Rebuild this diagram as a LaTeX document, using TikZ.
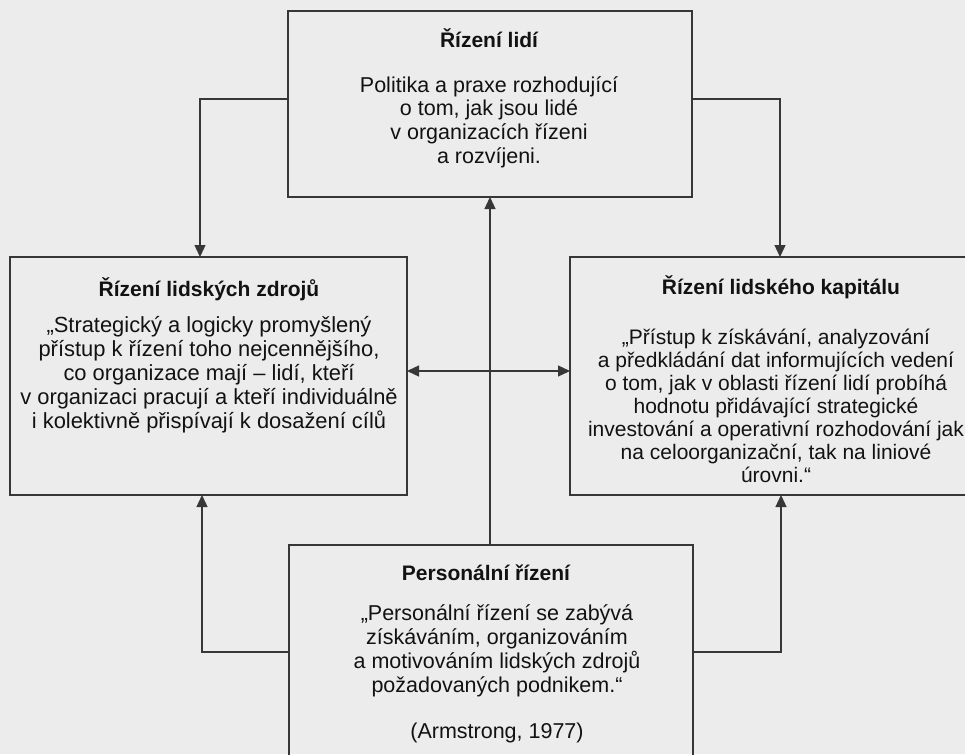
\documentclass[tikz,border=0pt]{standalone}
\usepackage{fontspec}
\setmainfont{Liberation Sans}
\usetikzlibrary{arrows.meta}
\definecolor{bg}{RGB}{236,236,236}
\definecolor{ln}{RGB}{55,55,55}
\definecolor{tx}{RGB}{18,18,18}
\tikzset{
  box/.style={draw=ln, line width=1.4pt, inner sep=0pt, outer sep=0pt, rectangle},
  ttl/.style={font=\fontsize{21}{24}\selectfont\bfseries, text=tx, inner sep=0pt},
  body/.style={font=\fontsize{21.5}{23.6}\selectfont, text=tx, align=center, inner sep=0pt},
  conn/.style={draw=ln, line width=1.3pt, -{Triangle[length=12pt,width=11pt]}},
  conn2/.style={draw=ln, line width=1.3pt, {Triangle[length=12pt,width=11pt]}-{Triangle[length=12pt,width=11pt]}}
}
\begin{document}
\begin{tikzpicture}[x=1pt,y=-1pt]
\fill[bg] (0,0) rectangle (965,754);
\useasboundingbox (0,0) rectangle (965,754);

% boxes
\node[box, minimum width=404pt, minimum height=186pt] (top) at (490,104) {};
\node[box, minimum width=397pt, minimum height=238pt] (left) at (208.5,376) {};
\node[box, minimum width=415pt, minimum height=238pt] (right) at (777.5,376) {};
\node[box, minimum width=404pt, minimum height=230pt] (bot) at (491,660) {};

% texts
\node[ttl] (toptitle) at (489,38) {Řízení lidí};
\node[body] (topbody) at (489,122) {Politika a praxe rozhodující\\o tom, jak jsou lidé\\v organizacích řízeni\\a rozvíjeni.};

\node[ttl] (lefttitle) at (209,289) {Řízení lidských zdrojů};
\node[body, font=\fontsize{21.9}{24}\selectfont] (leftbody) at (209,375) {„Strategický a logicky promyšlený\\přístup k řízení toho nejcennějšího,\\co organizace mají – lidí, kteří\\v organizaci pracují a kteří individuálně\\i kolektivně přispívají k dosažení cílů};

\node[ttl] (righttitle) at (781,287) {Řízení lidského kapitálu};
\node[body, font=\fontsize{21}{23}\selectfont] (rightbody) at (776,406) {„Přístup k získávání, analyzování\\a předkládání dat informujících vedení\\o tom, jak v oblasti řízení lidí probíhá\\hodnotu přidávající strategické\\investování a operativní rozhodování jak\\na celoorganizační, tak na liniové\\úrovni.“};

\node[ttl] (bottitle) at (486,573) {Personální řízení};
\node[body, font=\fontsize{21.5}{24}\selectfont] (botbody) at (497,651) {„Personální řízení se zabývá\\získáváním, organizováním\\a motivováním lidských zdrojů\\požadovaných podnikem.“};
\node[body] (botcite) at (497,733) {(Armstrong, 1977)};

% connector corners
\coordinate (c1) at (200,99);
\coordinate (c2) at (780,99);
\coordinate (c3) at (202,652);
\coordinate (c4) at (781,652);
\coordinate (c5) at (490,371);

\draw[conn] (top.west |- c1) -| (left.north -| c1);
\draw[conn] (top.east |- c2) -| (right.north -| c2);
\draw[conn] (bot.west |- c3) -| (left.south -| c3);
\draw[conn] (bot.east |- c4) -| (right.south -| c4);
\draw[conn] (bot.north -| top.south) -- (top.south);
\draw[conn2] (left.east |- c5) -- (right.west |- c5);
\end{tikzpicture}
\end{document}
